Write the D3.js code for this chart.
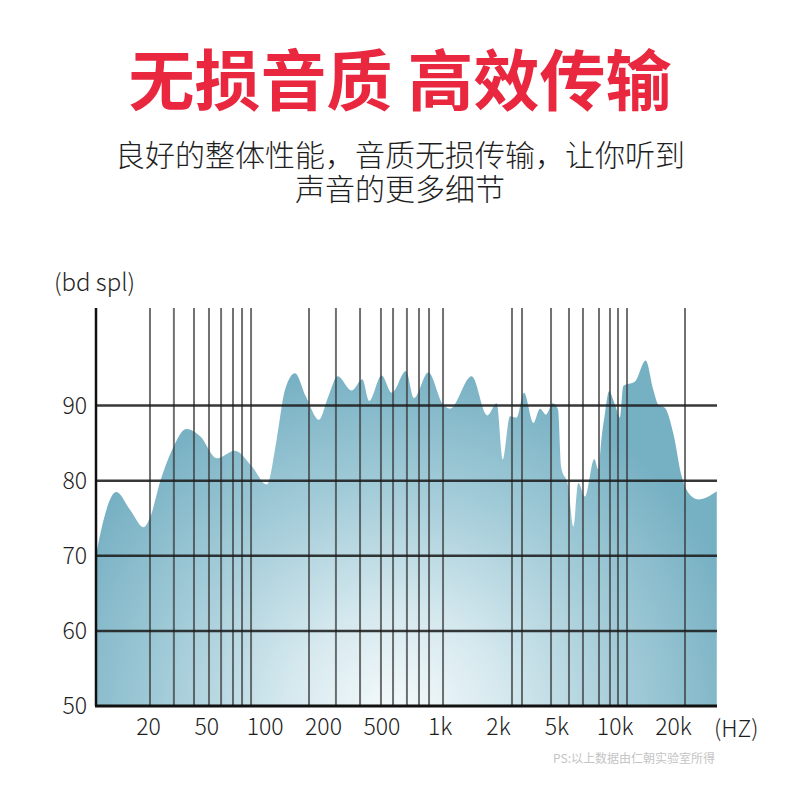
<!DOCTYPE html>
<html><head><meta charset="utf-8">
<script src="https://cdn.jsdelivr.net/npm/d3@7"></script>
<style>html,body{margin:0;padding:0;background:#fff;} svg{display:block;}</style>
</head><body>
<svg id="chart" width="800" height="800"></svg>
<script>
// ---- data ----
const tickLabels = ["20","50","100","200","500","1k","2k","5k","10k","20k"];
const tickFreqs  = [20,50,100,200,500,1000,2000,5000,10000,20000];
const gridFreqs  = [19.2,27.9,38.2,48.3,56.2,64.7,72.0,80.1,159,225,328,455,537,633,730,822,970,2259,2642,4159,5380,6348,7672,8737,9605,10686,21220];
const yTicks     = [50,60,70,80,90];
const freqs = [8.3,9.06,11.33,14.1,17.4,19.3,22.6,27.1,33.9,42.2,53.6,66.0,81.0,96.4,108.5,119.7,134.7,153.4,178.9,199.8,231,288,340,378,460,529,626,688,815,973,1053,1361,1638,1830,1965,2190,2432,2726,3152,3501,3846,4270,4640,4863,5337,5662,6005,6502,7259,7609,7920,8235,8636,9270,9835,10226,11744,13330,14580,15470,16750,18480,20400,22070,24830,30900];
const spl   = [70.3,73.9,78.5,76.1,73.8,75.2,80.0,84.1,86.9,85.9,83.0,84.0,81.9,79.5,85.5,92.1,94.3,91.2,88.1,91.2,93.9,92.0,93.5,90.6,94.0,91.7,94.6,91.0,94.4,90.1,89.6,93.9,88.7,90.3,82.8,88.6,88.4,91.7,87.7,89.6,88.8,90.3,89.5,81.9,79.2,73.9,79.7,77.9,82.9,81.5,85.9,89.0,91.9,90.1,88.4,92.6,93.2,96.0,92.1,90.1,89.7,86.3,80.6,78.4,77.5,78.6];
const yDomain = [50,103];

const title = "无损音质 高效传输";
const subtitle = ["良好的整体性能，音质无损传输，让你听到","声音的更多细节"];
const yUnit = "(bd spl)";
const xUnit = "(HZ)";
const note = "PS:以上数据由仁朝实验室所得";

// ---- layout ----
const L = 96, R = 717, T = 308, B = 706;
const FONT = "'Noto Sans CJK SC','Noto Sans',sans-serif";
const SUBFONT = "'Liberation Sans','Noto Sans CJK SC',sans-serif";

const svg = d3.select("#chart");

// scales: frequency axis is a piecewise log scale anchored on the 1-2-5 labels
const xRef = d3.scalePoint().domain(tickLabels).range([152.6, 680]);
const x = d3.scaleLog().domain(tickFreqs).range(tickLabels.map(d => xRef(d)));
const xLab = d3.scalePoint().domain(tickLabels).range([148, 673]);
const y = d3.scaleLinear().domain(yDomain).range([B, T]);

const data = freqs.map((f, i) => ({f, v: spl[i]}));

// gradient
const defs = svg.append("defs");
const grad = defs.append("radialGradient")
  .attr("id", "fillGrad").attr("gradientUnits", "userSpaceOnUse")
  .attr("cx", 395).attr("cy", 720).attr("r", 360);
[[0,"#f7fbfc"],[0.3,"#d6e9ef"],[0.65,"#a2cbd8"],[1,"#76b0c3"]].forEach(s =>
  grad.append("stop").attr("offset", s[0]).attr("stop-color", s[1]));

// titles
svg.append("text").attr("x", 400).attr("y", 105).attr("text-anchor", "middle")
  .attr("font-family", FONT).attr("font-weight", 700).attr("font-size", 66)
  .attr("fill", "#e9283f").text(title);
subtitle.forEach((s, i) => svg.append("text").attr("x", 400).attr("y", 166 + i * 34)
  .attr("text-anchor", "middle").attr("font-family", SUBFONT).attr("font-weight", 300)
  .attr("font-size", 30).attr("fill", "#1e1e1e").text(s));

// area
const area = d3.area().x(d => x(d.f)).y0(y(yDomain[0])).y1(d => y(d.v)).curve(d3.curveMonotoneX);
svg.append("path").datum(data).attr("d", area).attr("fill", "url(#fillGrad)");

// vertical grid
svg.append("g").selectAll("line").data(gridFreqs).join("line")
  .attr("x1", d => x(d)).attr("x2", d => x(d)).attr("y1", T).attr("y2", B)
  .attr("stroke", "#3a3a3a").attr("stroke-opacity", 0.72).attr("stroke-width", 2);

// horizontal grid
svg.append("g").selectAll("line").data(yTicks.slice(1)).join("line")
  .attr("x1", L).attr("x2", R).attr("y1", d => y(d)).attr("y2", d => y(d))
  .attr("stroke", "#1c1c1c").attr("stroke-opacity", 0.88).attr("stroke-width", 2.5);

// axes lines
svg.append("line").attr("x1", L).attr("x2", L).attr("y1", T).attr("y2", B)
  .attr("stroke", "#111").attr("stroke-width", 2.5);
svg.append("line").attr("x1", L - 1).attr("x2", R).attr("y1", B).attr("y2", B)
  .attr("stroke", "#111").attr("stroke-width", 3);

// y tick labels
svg.append("g").selectAll("text").data(yTicks).join("text")
  .attr("x", 87).attr("y", d => y(d) + 8).attr("text-anchor", "end")
  .attr("font-family", FONT).attr("font-weight", 300).attr("font-size", 23).attr("fill", "#1e1e1e").text(d => d);

// x tick labels via axis
const xAxis = svg.append("g").attr("transform", `translate(0,${B})`)
  .call(d3.axisBottom(xLab).tickSize(0).tickPadding(13));
xAxis.select(".domain").remove();
xAxis.selectAll("text").attr("font-family", FONT).attr("font-weight", 300)
  .attr("font-size", 23).attr("fill", "#1e1e1e");

svg.append("text").attr("x", 714).attr("y", 737).attr("font-family", FONT).attr("font-weight", 300)
  .attr("font-size", 23).attr("fill", "#1e1e1e").text(xUnit);
svg.append("text").attr("x", 54).attr("y", 291).attr("font-family", FONT).attr("font-weight", 300)
  .attr("font-size", 24).attr("fill", "#1e1e1e").text(yUnit);
svg.append("text").attr("x", 715).attr("y", 763).attr("text-anchor", "end")
  .attr("font-family", FONT).attr("font-size", 12).attr("fill", "#c4c4c4").text(note);
</script>
</body></html>
